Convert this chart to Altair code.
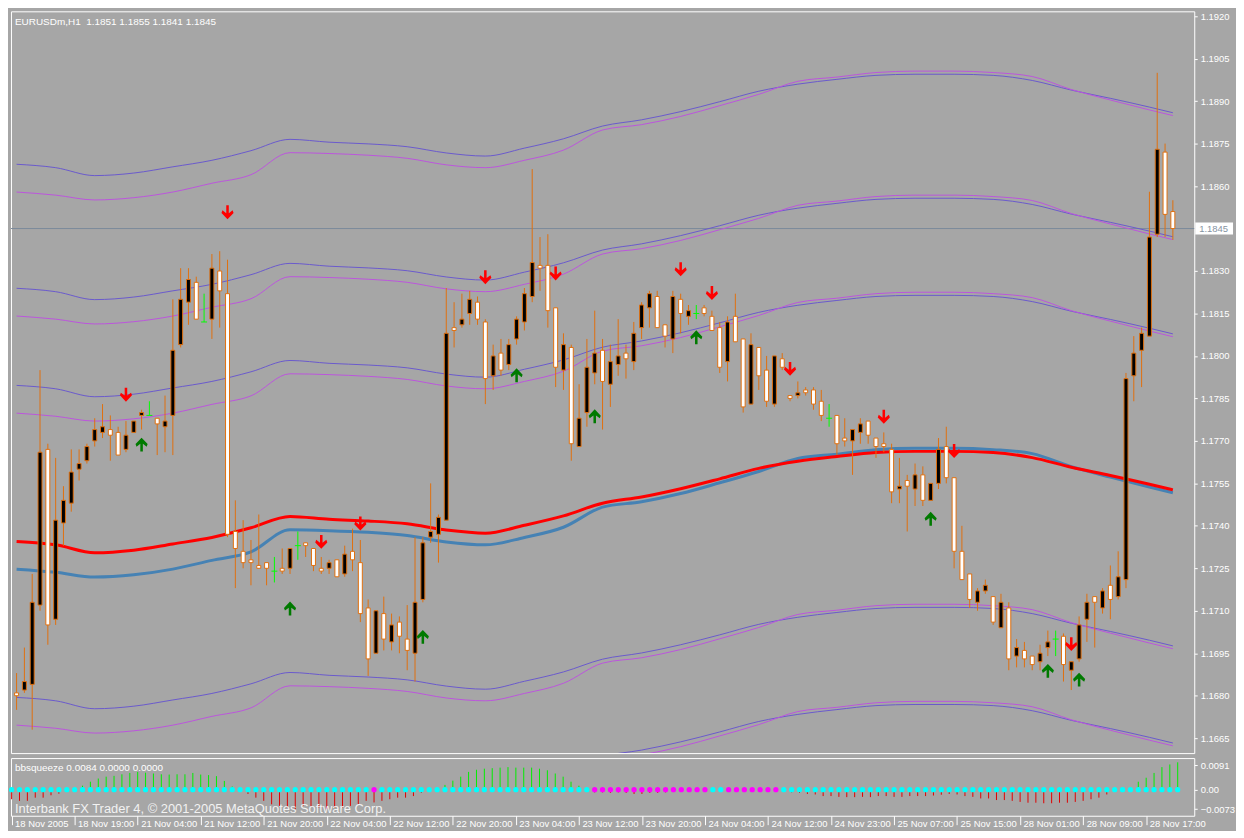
import altair as alt
import pandas as pd

# ------------------------------------------------------------------ data
OPEN = [1.1681, 1.1682, 1.1684, 1.1712, 1.1767, 1.1707, 1.1741, 1.1748, 1.1760, 1.1763,
        1.1770, 1.1773, 1.1774, 1.1773, 1.1767, 1.1773, 1.1779, 1.1779, 1.1778, 1.1775,
        1.1779, 1.1804, 1.1819, 1.1826, 1.1812, 1.1813, 1.1830, 1.1822, 1.1738, 1.1731,
        1.1728, 1.1726, 1.1727, 1.1724, 1.1725, 1.1725, 1.1733, 1.1734, 1.1732, 1.1725,
        1.1725, 1.1728, 1.1723, 1.1731, 1.1727, 1.1711, 1.1695, 1.1709, 1.1699, 1.1706,
        1.1700, 1.1695, 1.1714, 1.1736, 1.1737, 1.1742, 1.1810, 1.1811, 1.1815, 1.1819,
        1.1812, 1.1793, 1.1801, 1.1797, 1.1806, 1.1812, 1.1821, 1.1832, 1.1832, 1.1817,
        1.1795, 1.1803, 1.1768, 1.1780, 1.1794, 1.1802, 1.1790, 1.1797, 1.1801, 1.1798,
        1.1810, 1.1817, 1.1821, 1.1811, 1.1806, 1.1820, 1.1814, 1.1815, 1.1817, 1.1814,
        1.1810, 1.1798, 1.1814, 1.1806, 1.1783, 1.1803, 1.1795, 1.1783, 1.1799, 1.1786,
        1.1786, 1.1788, 1.1788, 1.1784, 1.1778, 1.1779, 1.1771, 1.1770, 1.1773, 1.1777,
        1.1771, 1.1769, 1.1767, 1.1753, 1.1756, 1.1753, 1.1758, 1.1749, 1.1755, 1.1768,
        1.1757, 1.1731, 1.1723, 1.1713, 1.1717, 1.1715, 1.1704, 1.1711, 1.1694, 1.1696,
        1.1694, 1.1692, 1.1697, 1.1700, 1.1701, 1.1689, 1.1693, 1.1707, 1.1715, 1.1711,
        1.1719, 1.1715, 1.1721, 1.1793, 1.1802, 1.1807, 1.1843, 1.1872, 1.1851]
HIGH = [1.1688, 1.1697, 1.1723, 1.1795, 1.1769, 1.1764, 1.1754, 1.1767, 1.1767, 1.1769,
        1.1778, 1.1783, 1.1779, 1.1775, 1.1777, 1.1777, 1.1781, 1.1784, 1.1778, 1.1786,
        1.1820, 1.1831, 1.1831, 1.1828, 1.1822, 1.1836, 1.1837, 1.1834, 1.1749, 1.1742,
        1.1735, 1.1744, 1.1727, 1.1729, 1.1732, 1.1732, 1.1738, 1.1734, 1.1732, 1.1729,
        1.1728, 1.1728, 1.1733, 1.1739, 1.1735, 1.1714, 1.1710, 1.1715, 1.1709, 1.1708,
        1.1712, 1.1736, 1.1736, 1.1755, 1.1744, 1.1824, 1.1819, 1.1822, 1.1823, 1.1821,
        1.1813, 1.1804, 1.1806, 1.1806, 1.1814, 1.1824, 1.1866, 1.1842, 1.1843, 1.1817,
        1.1808, 1.1804, 1.1790, 1.1806, 1.1816, 1.1806, 1.1804, 1.1813, 1.1804, 1.1812,
        1.1819, 1.1823, 1.1823, 1.1811, 1.1823, 1.1822, 1.1818, 1.1818, 1.1818, 1.1816,
        1.1812, 1.1814, 1.1822, 1.1806, 1.1808, 1.1803, 1.1800, 1.1800, 1.1801, 1.1786,
        1.1791, 1.1789, 1.1789, 1.1788, 1.1783, 1.1779, 1.1778, 1.1774, 1.1778, 1.1777,
        1.1771, 1.1773, 1.1769, 1.1764, 1.1758, 1.1762, 1.1761, 1.1755, 1.1771, 1.1775,
        1.1757, 1.1740, 1.1723, 1.1718, 1.1721, 1.1715, 1.1716, 1.1713, 1.1700, 1.1699,
        1.1694, 1.1698, 1.1703, 1.1703, 1.1702, 1.1692, 1.1708, 1.1716, 1.1715, 1.1718,
        1.1726, 1.1731, 1.1794, 1.1807, 1.1810, 1.1858, 1.1900, 1.1875, 1.1855]
LOW = [1.1675, 1.1681, 1.1668, 1.1710, 1.1698, 1.1705, 1.1733, 1.1745, 1.1756, 1.1762,
       1.1768, 1.1771, 1.1763, 1.1765, 1.1766, 1.1773, 1.1774, 1.1779, 1.1765, 1.1766,
       1.1765, 1.1803, 1.1811, 1.1813, 1.1812, 1.1806, 1.1810, 1.1736, 1.1718, 1.1725,
       1.1719, 1.1725, 1.1719, 1.1720, 1.1723, 1.1723, 1.1728, 1.1729, 1.1724, 1.1723,
       1.1723, 1.1722, 1.1722, 1.1724, 1.1706, 1.1687, 1.1695, 1.1696, 1.1696, 1.1695,
       1.1689, 1.1685, 1.1713, 1.1734, 1.1727, 1.1742, 1.1803, 1.1810, 1.1811, 1.1811,
       1.1783, 1.1788, 1.1793, 1.1795, 1.1804, 1.1809, 1.1819, 1.1823, 1.1810, 1.1789,
       1.1788, 1.1763, 1.1768, 1.1775, 1.1790, 1.1774, 1.1782, 1.1793, 1.1792, 1.1795,
       1.1806, 1.1810, 1.1810, 1.1803, 1.1801, 1.1808, 1.1811, 1.1813, 1.1814, 1.1809,
       1.1794, 1.1791, 1.1805, 1.1780, 1.1783, 1.1788, 1.1782, 1.1782, 1.1795, 1.1784,
       1.1785, 1.1786, 1.1781, 1.1777, 1.1775, 1.1765, 1.1768, 1.1758, 1.1769, 1.1769,
       1.1764, 1.1766, 1.1748, 1.1748, 1.1738, 1.1747, 1.1747, 1.1749, 1.1753, 1.1755,
       1.1725, 1.1721, 1.1711, 1.1710, 1.1716, 1.1705, 1.1704, 1.1689, 1.1690, 1.1690,
       1.1689, 1.1689, 1.1694, 1.1694, 1.1685, 1.1682, 1.1692, 1.1699, 1.1697, 1.1709,
       1.1707, 1.1714, 1.1718, 1.1784, 1.1789, 1.1807, 1.1842, 1.1842, 1.1841]
CLOSE = [1.1680, 1.1685, 1.1713, 1.1766, 1.1705, 1.1742, 1.1749, 1.1759, 1.1762, 1.1768,
         1.1774, 1.1775, 1.1772, 1.1765, 1.1772, 1.1777, 1.1780, 1.1779, 1.1776, 1.1777,
         1.1802, 1.1820, 1.1827, 1.1813, 1.1812, 1.1831, 1.1823, 1.1737, 1.1732, 1.1727,
         1.1727, 1.1725, 1.1725, 1.1724, 1.1724, 1.1732, 1.1733, 1.1733, 1.1726, 1.1724,
         1.1727, 1.1722, 1.1730, 1.1728, 1.1709, 1.1693, 1.1710, 1.1700, 1.1705, 1.1701,
         1.1696, 1.1713, 1.1734, 1.1738, 1.1743, 1.1808, 1.1809, 1.1813, 1.1820, 1.1813,
         1.1792, 1.1800, 1.1795, 1.1804, 1.1813, 1.1822, 1.1833, 1.1831, 1.1816, 1.1796,
         1.1804, 1.1769, 1.1778, 1.1796, 1.1801, 1.1791, 1.1798, 1.1800, 1.1799, 1.1808,
         1.1818, 1.1822, 1.1810, 1.1807, 1.1821, 1.1815, 1.1816, 1.1815, 1.1815, 1.1809,
         1.1796, 1.1812, 1.1805, 1.1782, 1.1804, 1.1793, 1.1784, 1.1800, 1.1796, 1.1785,
         1.1787, 1.1787, 1.1783, 1.1779, 1.1778, 1.1769, 1.1770, 1.1774, 1.1776, 1.1772,
         1.1768, 1.1768, 1.1752, 1.1754, 1.1754, 1.1758, 1.1749, 1.1755, 1.1767, 1.1757,
         1.1731, 1.1721, 1.1714, 1.1717, 1.1719, 1.1706, 1.1713, 1.1693, 1.1697, 1.1693,
         1.1691, 1.1695, 1.1699, 1.1700, 1.1691, 1.1692, 1.1705, 1.1713, 1.1713, 1.1717,
         1.1714, 1.1722, 1.1792, 1.1801, 1.1808, 1.1842, 1.1873, 1.1850, 1.1845]

CENTER_BARS = [0, 5, 10, 15, 20, 25, 30, 35, 40, 45, 50, 55, 60, 65, 70, 75, 80, 85, 90, 95,
               100, 105, 110, 115, 120, 125, 130, 135, 140, 145, 148]
RED_CENTER = [1.17345, 1.17333, 1.17305, 1.17314, 1.17336, 1.17359, 1.17393, 1.17433, 1.17423, 1.17417,
              1.17407, 1.17385, 1.17374, 1.17402, 1.17435, 1.17480, 1.17502, 1.17531, 1.17566, 1.17603,
              1.17628, 1.17645, 1.17659, 1.17663, 1.17663, 1.17659, 1.17641, 1.17607, 1.17578, 1.17547,
              1.17527]
STEEL_CENTER = [1.17247, 1.17236, 1.17219, 1.17227, 1.17247, 1.17278, 1.17308, 1.17386, 1.17383, 1.17377,
                1.17366, 1.17343, 1.17333, 1.17359, 1.17395, 1.17466, 1.17485, 1.17514, 1.17552, 1.17592,
                1.17638, 1.17653, 1.17669, 1.17674, 1.17674, 1.17669, 1.17655, 1.17609, 1.17572, 1.17537,
                1.17517]
BAND_OFFSETS = [0.00551, 0.00894, 0.01332]

DOWN_ARROW_BARS = [14, 27, 39, 44, 60, 69, 85, 89, 99, 111, 120, 135]
DOWN_ARROW_PRICES = [1.17863, 1.18507, 1.17343, 1.17408, 1.18278, 1.18291, 1.18306, 1.18222,
                     1.17954, 1.17785, 1.17664, 1.16982]
UP_ARROW_BARS = [16, 35, 52, 64, 74, 87, 117, 132, 136]
UP_ARROW_PRICES = [1.17687, 1.17108, 1.17008, 1.17932, 1.17787, 1.18066, 1.17425, 1.16888, 1.16857]

SQUEEZE = [-0.0036, -0.0042, -0.0042, -0.0030, -0.0030, -0.0021, -0.0015, 0.0000, 0.0003, 0.0015,
           0.0030, 0.0042, 0.0049, 0.0052, 0.0058, 0.0063, 0.0067, 0.0064, 0.0061, 0.0058,
           0.0057, 0.0058, 0.0058, 0.0063, 0.0057, 0.0055, 0.0051, 0.0033, 0.0012, -0.0003,
           -0.0016, -0.0030, -0.0042, -0.0055, -0.0061, -0.0067, -0.0073, -0.0061, -0.0064, -0.0067,
           -0.0073, -0.0069, -0.0067, -0.0061, -0.0055, -0.0042, -0.0048, -0.0042, -0.0036, -0.0030,
           -0.0030, -0.0024, -0.0012, -0.0006, 0.0003, 0.0018, 0.0034, 0.0049, 0.0067, 0.0075,
           0.0079, 0.0081, 0.0083, 0.0085, 0.0083, 0.0083, 0.0083, 0.0079, 0.0073, 0.0061,
           0.0049, 0.0030, 0.0015, 0.0003, -0.0010, -0.0010, -0.0012, -0.0010, -0.0012, -0.0016,
           -0.0016, -0.0012, -0.0012, -0.0010, -0.0006, 0.0000, 0.0000, 0.0000, 0.0000, 0.0000,
           0.0000, 0.0000, 0.0000, 0.0000, 0.0000, 0.0000, 0.0000, -0.0003, -0.0006, -0.0010,
           -0.0012, -0.0016, -0.0018, -0.0024, -0.0024, -0.0027, -0.0028, -0.0028, -0.0027, -0.0028,
           -0.0024, -0.0024, -0.0027, -0.0027, -0.0024, -0.0024, -0.0024, -0.0022, -0.0019, -0.0016,
           -0.0018, -0.0024, -0.0027, -0.0033, -0.0033, -0.0039, -0.0039, -0.0042, -0.0046, -0.0049,
           -0.0049, -0.0051, -0.0051, -0.0049, -0.0049, -0.0046, -0.0042, -0.0036, -0.0030, -0.0018,
           0.0000, 0.0000, 0.0010, 0.0030, 0.0045, 0.0063, 0.0085, 0.0095, 0.0103]
SQUEEZE_ON_BARS = [46, 74, 75, 76, 77, 78, 79, 80, 81, 82, 83, 84, 85, 86, 87, 88,
                   91, 92, 93, 94, 95, 96, 97]

TIME_LABEL_BARS = [0, 8, 16, 24, 32, 40, 48, 56, 64, 72, 80, 88, 96, 104, 112, 120, 128, 136, 144]
TIME_LABELS = ["18 Nov 2005", "18 Nov 19:00", "21 Nov 04:00", "21 Nov 12:00", "21 Nov 20:00",
               "22 Nov 04:00", "22 Nov 12:00", "22 Nov 20:00", "23 Nov 04:00", "23 Nov 12:00",
               "23 Nov 20:00", "24 Nov 04:00", "24 Nov 12:00", "24 Nov 23:00", "25 Nov 07:00",
               "25 Nov 15:00", "28 Nov 01:00", "28 Nov 09:00", "28 Nov 17:00"]
PRICE_TICKS = [1.1665, 1.1680, 1.1695, 1.1710, 1.1725, 1.1740, 1.1755, 1.1770, 1.1785,
               1.1800, 1.1815, 1.1830, 1.1845, 1.1860, 1.1875, 1.1890, 1.1905, 1.1920]
BID = 1.1845
SQUEEZE_TICKS = [0.0091, 0.0, -0.0073]
HEADER = "EURUSDm,H1\u00a0\u00a01.1851 1.1855 1.1841 1.1845"
SUB_HEADER = "bbsqueeze 0.0084 0.0000 0.0000"
COPYRIGHT = "Interbank FX Trader 4, \u00a9 2001-2005 MetaQuotes Software Corp."

# ------------------------------------------------------------------ style
W, H1, H2 = 1190, 746, 58
BG = "#a6a6a6"
ORANGE = "#e0700f"
FONT = "Liberation Sans"
DOWN_PATH = "M-0.18,-1 L0.18,-1 L0.18,0.12 L0.72,-0.3 L0.86,0.08 L0,0.98 L-0.86,0.08 L-0.72,-0.3 L-0.18,0.12 Z"
UP_PATH = "M-0.18,1 L0.18,1 L0.18,-0.12 L0.72,0.3 L0.86,-0.08 L0,-0.98 L-0.86,-0.08 L-0.72,0.3 L-0.18,-0.12 Z"

# ------------------------------------------------------------------ frames
n = len(OPEN)
cd = pd.DataFrame({"i": list(range(n)), "o": OPEN, "h": HIGH, "l": LOW, "c": CLOSE})
cd["lo"] = cd[["o", "c"]].min(axis=1)
cd["hi"] = cd[["o", "c"]].max(axis=1)
cd["dir"] = ["up" if c > o else ("doji" if c == o else "down") for o, c in zip(OPEN, CLOSE)]
normal = cd[cd["dir"] != "doji"]
ups = cd[cd["dir"] == "up"]
downs = cd[cd["dir"] == "down"]
dojis = cd[cd["dir"] == "doji"]

rows = []
for j, b in enumerate(CENTER_BARS):
    rows.append({"i": b, "p": RED_CENTER[j], "series": "red", "kind": "red"})
    rows.append({"i": b, "p": STEEL_CENTER[j], "series": "steel", "kind": "steel"})
    for k, off in enumerate(BAND_OFFSETS):
        for s, tag in ((1, "up"), (-1, "dn")):
            rows.append({"i": b, "p": RED_CENTER[j] + s * off, "series": f"blue{k}{tag}", "kind": "blue"})
            rows.append({"i": b, "p": STEEL_CENTER[j] + s * off, "series": f"mag{k}{tag}", "kind": "mag"})
lines = pd.DataFrame(rows)

down_df = pd.DataFrame({"i": DOWN_ARROW_BARS, "p": DOWN_ARROW_PRICES})
up_df = pd.DataFrame({"i": UP_ARROW_BARS, "p": UP_ARROW_PRICES})
bid_df = pd.DataFrame({"p": [BID], "lbl": [f"{BID:.4f}"]})

sq = pd.DataFrame({"i": list(range(n)), "v": SQUEEZE})
sq["zero"] = 0.0
sq_pos = sq[sq["v"] > 0]
sq_neg = sq[sq["v"] < 0]
sq_on = sq[sq["i"].isin(SQUEEZE_ON_BARS)]
sq_off = sq[~sq["i"].isin(SQUEEZE_ON_BARS)]

# ------------------------------------------------------------------ scales
XDOM = [-0.08, 150.1]
X = alt.X("i:Q", scale=alt.Scale(domain=XDOM, nice=False, zero=False), axis=None)
axis_prices = [p for p in PRICE_TICKS if abs(p - BID) > 1e-9]
PSCALE = alt.Scale(domain=[1.165973, 1.192172], nice=False, zero=False)
PAXIS = alt.Axis(orient="right", values=axis_prices, labelExpr="format(datum.value, '.4f')",
                 title=None, grid=False, domain=False, ticks=True, tickColor="white", tickSize=3,
                 labelColor="white", labelFont=FONT, labelFontSize=9.5, labelPadding=3,
                 labelOverlap=False, labelFlush=False)


def PY(field):
    return alt.Y(f"{field}:Q", scale=PSCALE, axis=PAXIS)


def txt(s):
    return pd.DataFrame({"t": [s]})


# ------------------------------------------------------------------ main panel
bid_line = alt.Chart(bid_df).mark_rule(color="#7b8a9a", strokeWidth=1).encode(y=PY("p"))
blue = alt.Chart(lines[lines["kind"] == "blue"]).mark_line(
    color="#6a5acd", strokeWidth=1, clip=True, interpolate="monotone").encode(
    x=X, y=PY("p"), detail="series:N")
mag = alt.Chart(lines[lines["kind"] == "mag"]).mark_line(
    color="#bb55dd", strokeWidth=1, clip=True, interpolate="monotone").encode(
    x=X, y=PY("p"), detail="series:N")
steel = alt.Chart(lines[lines["kind"] == "steel"]).mark_line(
    color="#4682b4", strokeWidth=3, clip=True, interpolate="monotone").encode(x=X, y=PY("p"))
red = alt.Chart(lines[lines["kind"] == "red"]).mark_line(
    color="#ff0000", strokeWidth=3, clip=True, interpolate="monotone").encode(x=X, y=PY("p"))
wicks = alt.Chart(normal).mark_rule(color=ORANGE, strokeWidth=1).encode(x=X, y=PY("l"), y2=alt.Y2("h:Q"))
body_up = alt.Chart(ups).mark_bar(size=4, fill="#000000", stroke=ORANGE, strokeWidth=1).encode(
    x=X, y=PY("lo"), y2=alt.Y2("hi:Q"))
body_dn = alt.Chart(downs).mark_bar(size=4, fill="#ffffff", stroke=ORANGE, strokeWidth=1).encode(
    x=X, y=PY("lo"), y2=alt.Y2("hi:Q"))
doji_w = alt.Chart(dojis).mark_rule(color="#00ff00", strokeWidth=1).encode(x=X, y=PY("l"), y2=alt.Y2("h:Q"))
doji_t = alt.Chart(dojis).mark_rule(color="#00ff00", strokeWidth=1, xOffset=-3, x2Offset=3).encode(
    x=X, x2=alt.X2("i:Q"), y=PY("c"))
arr_dn = alt.Chart(down_df).mark_point(shape=DOWN_PATH, filled=True, size=200, color="#ff0000",
                                       opacity=1, strokeWidth=0).encode(x=X, y=PY("p"))
arr_up = alt.Chart(up_df).mark_point(shape=UP_PATH, filled=True, size=200, color="#007a00",
                                     opacity=1, strokeWidth=0).encode(x=X, y=PY("p"))
header = alt.Chart(txt(HEADER)).mark_text(align="left", baseline="middle", font=FONT, fontSize=10,
                                          color="white").encode(x=alt.value(4), y=alt.value(11), text="t:N")
box = alt.Chart(bid_df).mark_rect(fill="white", yOffset=-6, y2Offset=6).encode(
    x=alt.value(W + 1), x2=alt.value(W + 39), y=PY("p"), y2=alt.Y2("p:Q"))
box_txt = alt.Chart(bid_df).mark_text(align="left", baseline="middle", font=FONT, fontSize=9.5,
                                      color="#8593a2").encode(x=alt.value(W + 5), y=PY("p"), text="lbl:N")

main = alt.layer(bid_line, blue, mag, steel, red, wicks, body_up, body_dn, doji_w, doji_t,
                 arr_dn, arr_up, header, box, box_txt).properties(width=W, height=H1)

# ------------------------------------------------------------------ indicator panel
ISCALE = alt.Scale(domain=[-0.0098, 0.0119], nice=False, zero=False)
IAXIS = alt.Axis(orient="right", values=SQUEEZE_TICKS,
                 labelExpr="datum.value == 0 ? '0.00' : format(datum.value, '.4f')",
                 title=None, grid=False, domain=False, ticks=True, tickColor="white", tickSize=3,
                 labelColor="white", labelFont=FONT, labelFontSize=9.5, labelPadding=3,
                 labelOverlap=False, labelFlush=False)
js_labels = "[" + ",".join(f"'{t}'" for t in TIME_LABELS) + "]"
js_bars = "[" + ",".join(str(b) for b in TIME_LABEL_BARS) + "]"
XI = alt.X("i:Q", scale=alt.Scale(domain=XDOM, nice=False, zero=False),
           axis=alt.Axis(values=TIME_LABEL_BARS, labelExpr=f"{js_labels}[indexof({js_bars}, datum.value)]",
                         title=None, grid=False, domain=False, ticks=True, tickColor="white", tickSize=9,
                         labelColor="white", labelFont=FONT, labelFontSize=9.5, labelAlign="left",
                         labelBaseline="top", labelOffset=3, labelPadding=-6, labelOverlap=False,
                         labelFlush=False))


def IY(field):
    return alt.Y(f"{field}:Q", scale=ISCALE, axis=IAXIS)


h_pos = alt.Chart(sq_pos).mark_rule(color="#00ee00", strokeWidth=1).encode(x=XI, y=IY("v"), y2=alt.Y2("zero:Q"))
h_neg = alt.Chart(sq_neg).mark_rule(color="#e00000", strokeWidth=1).encode(x=XI, y=IY("v"), y2=alt.Y2("zero:Q"))
d_off = alt.Chart(sq_off).mark_circle(size=28, color="#00ffff", opacity=1).encode(x=XI, y=IY("zero"))
d_on = alt.Chart(sq_on).mark_circle(size=28, color="#ff00ff", opacity=1).encode(x=XI, y=IY("zero"))
sub = alt.Chart(txt(SUB_HEADER)).mark_text(align="left", baseline="middle", font=FONT, fontSize=10,
                                           color="white").encode(x=alt.value(4), y=alt.value(10), text="t:N")
copy = alt.Chart(txt(COPYRIGHT)).mark_text(align="left", baseline="middle", font=FONT, fontSize=13,
                                           color="#f2f2f2").encode(x=alt.value(4), y=alt.value(51), text="t:N")

ind = alt.layer(h_pos, h_neg, d_off, d_on, sub, copy).properties(width=W, height=H2)

chart = alt.vconcat(main, ind, spacing=3).properties(
    background=BG, padding={"left": 0, "top": 0, "right": 0, "bottom": 0}
).configure_view(fill=BG, stroke="white", strokeWidth=1)

chart.save("out.html", embed_options={"renderer": "svg", "actions": False})
